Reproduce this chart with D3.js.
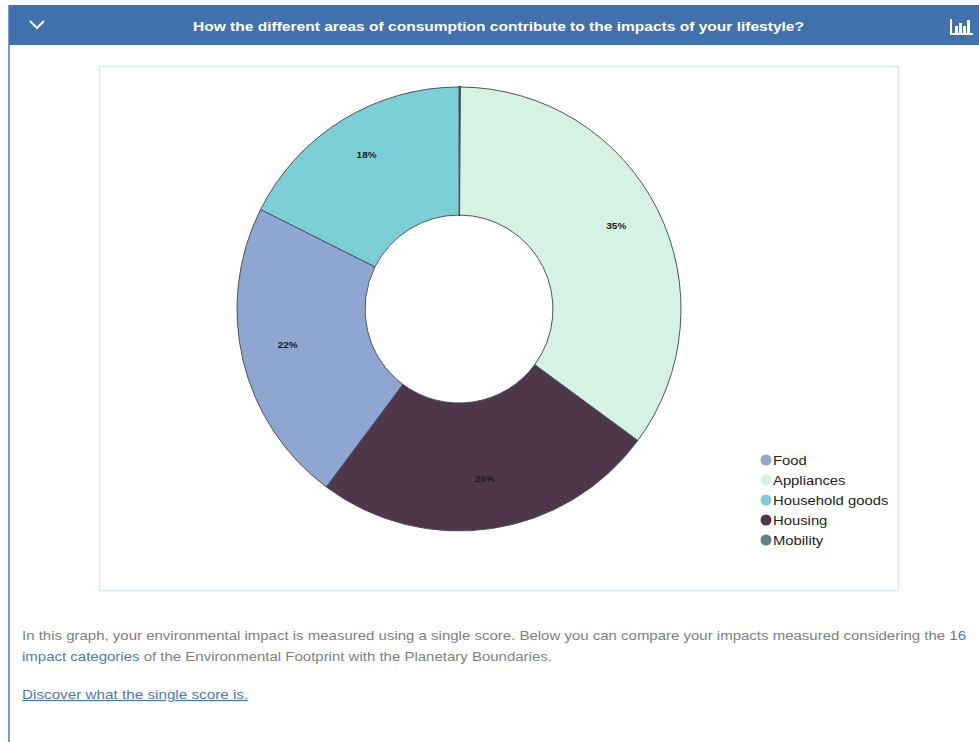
<!DOCTYPE html>
<html>
<head>
<meta charset="utf-8">
<script src="https://cdnjs.cloudflare.com/ajax/libs/d3/7.8.5/d3.min.js"></script>
<style>
html,body{margin:0;padding:0;background:#fff;overflow:hidden}
svg{display:block;font-family:"Liberation Sans",Arial,sans-serif}
</style>
</head>
<body>
<svg id="panel" width="979" height="742"></svg>
<script>
const title = "How the different areas of consumption contribute to the impacts of your lifestyle?";

// Slices in drawing order, clockwise from twelve o'clock
const sliceNames = ["Mobility", "Appliances", "Housing", "Food", "Household goods"];
const sliceValues = [0.1, 35.0, 25.1, 22.2, 17.6];
const sliceLabels = ["", "35%", "25%", "22%", "18%"];

// Legend keeps its own order
const legendNames = ["Food", "Appliances", "Household goods", "Housing", "Mobility"];
const palette = {
  "Food": "#8fa5d2",
  "Appliances": "#d6f2e5",
  "Household goods": "#7dcfd7",
  "Housing": "#4f374b",
  "Mobility": "#5b8285"
};

const svg = d3.select("#panel");

// Card frame and header bar
svg.append("rect").attr("x", 8).attr("y", 5).attr("width", 2).attr("height", 737).attr("fill", "#7a9bcb");
svg.append("rect").attr("x", 9).attr("y", 5).attr("width", 970).attr("height", 40).attr("fill", "#4272ae");
svg.append("path").attr("d", "M30,21 L37,28 L44,21").attr("fill", "none").attr("stroke", "#fff").attr("stroke-width", 2);
svg.append("text").attr("x", 193).attr("y", 31)
  .attr("fill", "#fff").attr("font-size", 13).attr("font-weight", 700)
  .attr("textLength", 611).attr("lengthAdjust", "spacingAndGlyphs").text(title);

// Small bar-chart icon in the header
const icon = svg.append("g").attr("fill", "#fff");
icon.append("path").attr("d", "M951,19 V34 H973").attr("fill", "none").attr("stroke", "#fff").attr("stroke-width", 2);
[[955, 26, 7], [959, 23, 10], [963, 26, 7], [967, 20, 13]].forEach(b =>
  icon.append("rect").attr("x", b[0]).attr("y", b[1]).attr("width", 3).attr("height", b[2]));

// Chart frame
svg.append("rect").attr("x", 99.5).attr("y", 66.5).attr("width", 799).attr("height", 524)
  .attr("fill", "#fff").attr("stroke", "#dbe7f3").attr("stroke-width", 1.5);

// Donut
const cx = 459, cy = 309, outerR = 222, innerR = 94;
const pie = d3.pie().sort(null).value(d => d.value);
const arc = d3.arc().innerRadius(innerR).outerRadius(outerR);
const labelArc = d3.arc().innerRadius(176).outerRadius(176);
const rows = sliceNames.map((name, i) => ({ name, value: sliceValues[i], label: sliceLabels[i] }));

const donut = svg.append("g").attr("transform", `translate(${cx},${cy})`);
donut.selectAll("path").data(pie(rows)).join("path")
  .attr("d", arc)
  .attr("fill", d => palette[d.data.name])
  .attr("stroke", d => d.data.name === "Mobility" ? "#34494b" : "#4a5557")
  .attr("stroke-width", d => d.data.name === "Mobility" ? 1.8 : 1);
donut.selectAll("text").data(pie(rows)).join("text")
  .attr("transform", d => `translate(${labelArc.centroid(d)})`)
  .attr("text-anchor", "middle").attr("y", -4.5).attr("dy", "0.35em")
  .attr("font-size", 8.5).attr("font-weight", 700).attr("fill", "#1a1a1a")
  .attr("textLength", d => d.data.label ? 20 : null)
  .attr("lengthAdjust", "spacingAndGlyphs")
  .text(d => d.data.label);

// Legend
const legendY = d3.scalePoint().domain(legendNames).range([460, 540]);
const legend = svg.append("g").selectAll("g").data(legendNames).join("g")
  .attr("transform", d => `translate(766,${legendY(d)})`);
legend.append("circle").attr("r", 5.5).attr("fill", d => palette[d]);
legend.append("text").attr("transform", "translate(7,1) scale(1.186,1)")
  .attr("dy", "0.35em").attr("font-size", 12.5).attr("fill", "#222").text(d => d);

// Explanatory text below the chart
const grey = "#7d7f84", blue = "#4f78b3";
const line1 = svg.append("text").attr("transform", "translate(22,640) scale(1.2,1)").attr("font-size", 12.5).attr("fill", grey);
line1.append("tspan").text("In this graph, your environmental impact is measured using a single score. Below you can compare your impacts measured considering the ");
line1.append("tspan").attr("fill", blue).text("16");
const line2 = svg.append("text").attr("transform", "translate(22,661) scale(1.2,1)").attr("font-size", 12.5).attr("fill", grey);
line2.append("tspan").attr("fill", blue).text("impact categories");
line2.append("tspan").text(" of the Environmental Footprint with the Planetary Boundaries.");
svg.append("text").attr("transform", "translate(22,699) scale(1.22,1)").attr("font-size", 12.5).attr("fill", blue)
  .attr("text-decoration", "underline").text("Discover what the single score is.");
</script>
</body>
</html>
